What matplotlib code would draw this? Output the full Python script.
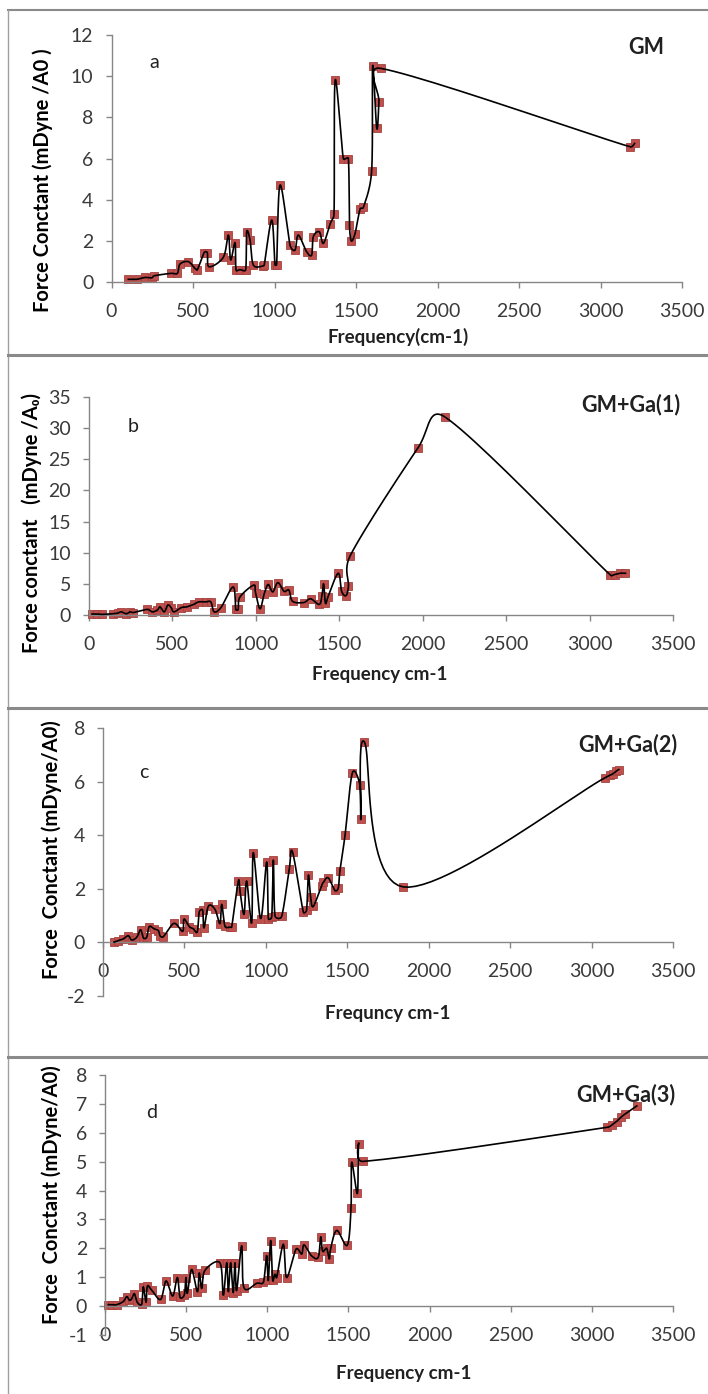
import matplotlib
matplotlib.use("Agg")
import matplotlib.pyplot as plt
from matplotlib.lines import Line2D
import numpy as np

plt.rcParams['font.family'] = ['Lato', 'DejaVu Sans']
plt.rcParams['axes.unicode_minus'] = False

# Force constants vs. vibrational frequency for each system
freq_a = [103, 155, 205, 246, 261, 363, 404, 420, 471, 512, 527, 568, 588, 598, 686,
          717, 731, 758, 764, 788, 823, 829, 850, 870, 928, 937, 983, 1003, 1013, 1034,
          1095, 1126, 1146, 1197, 1228, 1238, 1275, 1300, 1341, 1365, 1372, 1422, 1453,
          1460, 1471, 1494, 1525, 1545, 1596, 1602, 1627, 1641, 1651, 3181, 3209]
fc_a = [0.13, 0.13, 0.22, 0.20, 0.30, 0.42, 0.42, 0.87, 0.99, 0.66, 0.60, 1.42, 1.42, 0.74, 1.20,
        2.28, 1.07, 1.91, 0.58, 0.60, 0.60, 2.44, 2.04, 0.83, 0.78, 0.83, 3.01, 0.83, 0.85, 4.71,
        1.80, 1.55, 2.28, 1.47, 1.31, 2.20, 2.44, 1.88, 2.82, 3.30, 9.80, 6.00, 6.00,
        2.77, 2.00, 2.35, 3.55, 3.62, 5.40, 10.50, 7.47, 8.76, 10.38, 6.57, 6.73]

freq_b = [18, 48, 80, 141, 172, 193, 224, 245, 266, 348, 379, 410, 426, 451, 472,
          492, 509, 554, 585, 627, 657, 699, 730, 750, 791, 864, 880, 894, 905, 987,
          998, 1025, 1050, 1074, 1101, 1132, 1169, 1198, 1220, 1287, 1328, 1380, 1396,
          1406, 1417, 1432, 1493, 1514, 1540, 1555, 1565, 1971, 2133, 3125, 3150, 3180, 3215]
fc_b = [0.16, 0.16, 0.1, 0.2, 0.3, 0.5, 0.2, 0.5, 0.4, 0.9, 0.5, 0.8, 1.3, 0.5, 1.6,
        1.2, 0.5, 1.2, 1.3, 1.7, 2.1, 2.1, 2.1, 0.5, 1.2, 4.5, 0.9, 0.9, 2.9, 4.8,
        3.6, 1.0, 3.4, 4.9, 3.7, 5.2, 3.8, 4.0, 2.2, 2.0, 2.6, 1.7, 3.1,
        5.0, 1.9, 2.9, 6.7, 3.8, 3.1, 4.6, 9.5, 26.8, 31.8, 6.4, 6.5, 6.7, 6.7]

freq_c = [68, 94, 125, 155, 176, 207, 231, 248, 268, 284, 313, 340, 350, 370, 436,
          489, 497, 530, 554, 579, 591, 612, 620, 647, 688, 718, 729, 749, 780, 790,
          831, 841, 866, 882, 913, 923, 968, 1005, 1015, 1036, 1046, 1056, 1097, 1144, 1164,
          1230, 1250, 1261, 1275, 1291, 1342, 1353, 1383, 1424, 1445, 1455, 1486, 1531,
          1578, 1583, 1605, 1844, 3084, 3111, 3133, 3153, 3167]
fc_c = [0.01, 0.07, 0.13, 0.25, 0.09, 0.19, 0.47, 0.17, 0.19, 0.59, 0.51, 0.44, 0.25, 0.21, 0.71,
        0.41, 0.87, 0.59, 0.51, 0.39, 1.14, 1.20, 0.54, 1.35, 1.23, 0.70, 1.42, 0.60, 0.57, 0.57,
        2.29, 1.92, 1.05, 2.29, 0.73, 3.35, 0.89, 3.00, 0.89, 0.95, 3.07, 1.00, 0.97, 2.75, 3.37,
        1.13, 1.20, 2.51, 1.69, 1.34, 2.12, 2.24, 2.41, 1.94, 2.04, 2.68, 3.99, 6.32,
        5.86, 4.62, 7.48, 2.07, 6.15, 6.23, 6.30, 6.40, 6.45]

freq_d = [20, 41, 72, 113, 134, 150, 164, 181, 199, 226, 236, 253, 261, 288, 343,
          376, 417, 446, 462, 489, 499, 507, 534, 569, 581, 596, 616, 708, 729, 750,
          760, 774, 790, 801, 811, 842, 856, 935, 976, 996, 1006, 1021, 1033, 1047, 1058,
          1099, 1119, 1177, 1212, 1226, 1273, 1314, 1329, 1341, 1366, 1382, 1391, 1428,
          1493, 1516, 1520, 1555, 1563, 1588, 3096, 3124, 3152, 3180, 3205, 3277]
fc_d = [0.05, 0.05, 0.05, 0.16, 0.33, 0.20, 0.25, 0.43, 0.13, 0.07, 0.67, 0.13, 0.69, 0.55, 0.23,
        0.87, 0.35, 0.99, 0.31, 0.39, 0.99, 0.44, 1.27, 0.50, 1.15, 0.61, 1.24, 1.50, 0.38, 1.50,
        0.50, 1.50, 0.47, 1.50, 0.54, 2.09, 0.64, 0.79, 0.83, 1.75, 0.89, 2.27, 0.89, 1.10, 0.99,
        2.14, 0.99, 1.97, 1.80, 2.12, 1.74, 1.69, 2.40, 1.90, 2.00, 1.63, 2.00, 2.62,
        2.11, 3.40, 4.98, 3.90, 5.62, 5.01, 6.19, 6.27, 6.39, 6.54, 6.65, 6.93]

W, H = 708, 1394


def fx(px):
    return px / W


def fy(py):
    return 1 - py / H


def smooth_line(ax, x, y, n=24):
    # Bezier smoothing in screen space, like spreadsheet "smoothed line" charts
    pts = ax.transData.transform(np.column_stack([x, y]))
    m = len(pts)
    parts = []
    s = np.linspace(0, 1, n)[:, None]
    for i in range(m - 1):
        p0 = pts[i - 1] if i > 0 else pts[i]
        p1, p2 = pts[i], pts[i + 1]
        p3 = pts[i + 2] if i + 2 < m else p2
        seg = np.hypot(*(p2 - p1))
        t1 = (p2 - p0) / 6
        t2 = (p3 - p1) / 6
        for t in (t1, t2):
            ln = np.hypot(*t)
            if ln > seg / 2 and ln > 0:
                t *= (seg / 2) / ln
        c1 = p1 + t1
        c2 = p2 - t2
        b = (1 - s) ** 3 * p1 + 3 * (1 - s) ** 2 * s * c1 + 3 * (1 - s) * s ** 2 * c2 + s ** 3 * p2
        parts.append(b if i == 0 else b[1:])
    curve = ax.transData.inverted().transform(np.vstack(parts))
    return curve[:, 0], curve[:, 1]


fig = plt.figure(figsize=(W / 100, H / 100), dpi=100)

panels = [
    # x, y, ylim, yticks, axes box (left, right, top, bottom px)
    dict(x=freq_a, y=fc_a, ylim=(0, 12), yticks=range(0, 13, 2), box=(111.5, 682, 35, 282),
         ylabel="Force Conctant (mDyne /A0 )", ylxy=(43, 180), xlabel="Frequency(cm-1)", xlxy=(398, 337),
         letter="a", lxy=(154, 62), tag="GM", txy=(646, 47)),
    dict(x=freq_b, y=fc_b, ylim=(0, 35), yticks=range(0, 36, 5), box=(89, 673, 397, 615),
         ylabel="Force conctant   (mDyne /A\u2080)", ylxy=(32, 523), xlabel="Frequency cm-1", xlxy=(380, 675),
         letter="b", lxy=(133, 426), tag="GM+Ga(1)", txy=(631, 405)),
    dict(x=freq_c, y=fc_c, ylim=(-2, 8), yticks=range(-2, 9, 2), box=(103, 673, 728, 996),
         ylabel="Force  Conctant (mDyne/A0)", ylxy=(52, 850), xlabel="Frequncy cm-1", xlxy=(388, 1013),
         letter="c", lxy=(144, 772), tag="GM+Ga(2)", txy=(628, 745)),
    dict(x=freq_d, y=fc_d, ylim=(-1, 8), yticks=range(-1, 9), box=(105, 673, 1075, 1335),
         ylabel="Force  Conctant (mDyne/A0)", ylxy=(52, 1195), xlabel="Frequency cm-1", xlxy=(404, 1373),
         letter="d", lxy=(152, 1113), tag="GM+Ga(3)", txy=(626, 1095)),
]

axis_grey = "#868686"
for p in panels:
    l, r, t, b = p["box"]
    ax = fig.add_axes([fx(l), fy(b), (r - l) / W, (b - t) / H])
    ax.set_xlim(0, 3500)
    ax.set_ylim(*p["ylim"])
    ax.set_xticks(range(0, 3501, 500))
    ax.set_yticks(list(p["yticks"]))
    for side in ("top", "right"):
        ax.spines[side].set_visible(False)
    for side in ("left", "bottom"):
        ax.spines[side].set_color(axis_grey)
        ax.spines[side].set_linewidth(1.0)
    ax.spines["bottom"].set_position(("data", 0))
    ax.tick_params(direction="out", length=4, width=1, color=axis_grey,
                   labelsize=14, labelcolor="#3a3a3a")
    ax.tick_params(axis="x", pad=11)
    ax.tick_params(axis="y", pad=9)
    ax.patch.set_alpha(0)

    ax.plot(p["x"], p["y"], linestyle="none", marker="s", markersize=5.5,
            markerfacecolor="#C0504D", markeredgecolor="#A5423F", markeredgewidth=0.6, zorder=2,
            clip_on=False)
    sx, sy = smooth_line(ax, p["x"], p["y"])
    ax.plot(sx, sy, color="black", linewidth=1.2, zorder=3, clip_on=False)

    fig.text(fx(p["ylxy"][0]), fy(p["ylxy"][1]), p["ylabel"], rotation=90, ha="center", va="center",
             fontsize=14.5, fontweight="bold", color="black")
    fig.text(fx(p["xlxy"][0]), fy(p["xlxy"][1]), p["xlabel"], ha="center", va="center",
             fontsize=13.5, fontweight="bold", color="#202020")
    fig.text(fx(p["lxy"][0]), fy(p["lxy"][1]), p["letter"], ha="center", va="center",
             fontsize=14, color="#202020")
    fig.text(fx(p["txy"][0]), fy(p["txy"][1]), p["tag"], ha="center", va="center",
             fontsize=15.5, fontweight="bold", color="#202020")

# panel frames
frame = "#8a8a8a"
fig.add_artist(Line2D([fx(8), 1], [fy(10), fy(10)], transform=fig.transFigure, color=frame, lw=1.5))
fig.add_artist(Line2D([fx(8), fx(8)], [fy(10), 0], transform=fig.transFigure, color="#a0a0a0", lw=1))
for ys in (355, 708, 1057):
    fig.add_artist(Line2D([fx(8), 1], [fy(ys), fy(ys)], transform=fig.transFigure, color=frame, lw=2.2))

fig.savefig("out.png", dpi=100)
